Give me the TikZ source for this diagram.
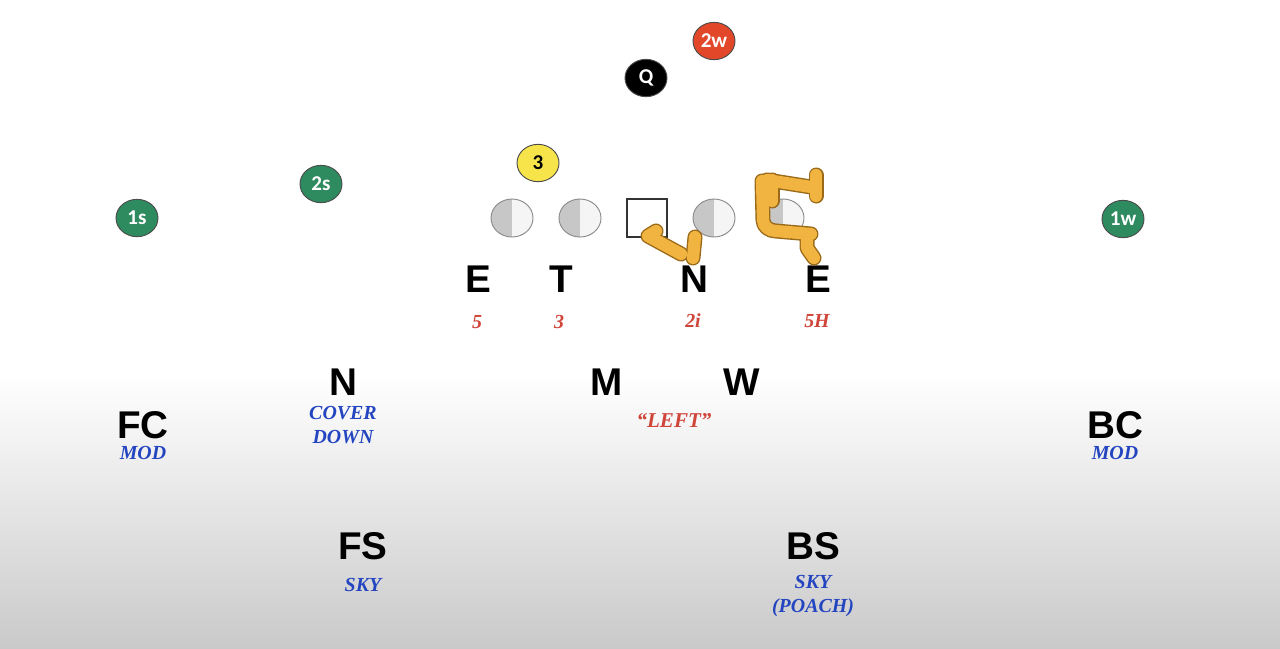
\documentclass[tikz,border=0pt]{standalone}
\usepackage{fontspec}
\setmainfont{Liberation Serif}
\setsansfont{Liberation Sans}
\newfontfamily\chipfont{Carlito}
\usetikzlibrary{shapes.geometric, calc, positioning}
\definecolor{teamgreen}{HTML}{2E8B5F}
\definecolor{dotred}{HTML}{E2472A}
\definecolor{dotyellow}{HTML}{F7E44A}
\definecolor{techred}{HTML}{D0453A}
\definecolor{callblue}{HTML}{2445C0}
\definecolor{pen}{HTML}{F2B441}
\definecolor{penedge}{HTML}{9A6A18}
\tikzset{
  chip/.style = {
    ellipse,
    minimum width  = 0.63cm,
    minimum height = 0.56cm,
    inner sep      = 0pt,
    draw           = black!70,
    font           = \chipfont\bfseries\fontsize{9}{9}\selectfont
  },
  oline/.style = {
    ellipse,
    minimum width  = 0.63cm,
    minimum height = 0.57cm,
    inner sep      = 0pt,
    draw           = black!45,
    fill           = black!4,
    path picture   = {\fill[black!22] (path picture bounding box.south west) rectangle (path picture bounding box.north);}
  },
  spot/.style = {font = \sffamily\bfseries\fontsize{16.5}{16.5}\selectfont, inner sep = 0pt},
  tech/.style = {font = \bfseries\itshape\fontsize{8.5}{8.5}\selectfont, text = techred, inner sep = 0pt},
  call/.style = {font = \bfseries\itshape\fontsize{8.5}{10}\selectfont, text = callblue, align = center, inner sep = 0pt},
  ink/.style  = {line width = 6.4pt, line cap = round, line join = round, draw = penedge},
  inkin/.style = {line width = 5.2pt, line cap = round, line join = round, draw = pen}
}

\begin{document}
\begin{tikzpicture}[x=0.015cm, y=-0.015cm]

% Background
\useasboundingbox (0,0) rectangle (1280,648);
\fill[white] (0,0) rectangle (1280,376);
\shade[top color=white, bottom color=black!21] (0,375) rectangle (1280,648);

% Offense
\node[chip, fill=dotred, text=white] (twow) at (714,41) {2w};
\node[chip, fill=black, text=white] (qb) at (646,78) {Q};
\node[chip, fill=dotyellow, text=black] (three) at (538,163) {3};
\node[chip, fill=teamgreen, text=white] (twos) at (321,184) {2s};
\node[chip, fill=teamgreen, text=white] (ones) at (137,218) {1s};
\node[chip, fill=teamgreen, text=white] (onew) at (1123,219) {1w};

% Offensive line
\node[oline] (lt) at (512,218) {};
\node[oline] (lg) at (580,218) {};
\node[draw=black!80, fill=white, thick, minimum width=0.6cm, minimum height=0.57cm, inner sep=0pt] (ctr) at (647,218) {};
\node[oline] (rg) at (714,218) {};
\node[oline] (rt) at (783,218) {};

% Front
\node[spot] (dle) at (478,279) {E};
\node[spot] (dt) at (561,279) {T};
\node[spot] (dn) at (694,279) {N};
\node[spot] (dre) at (818,279) {E};

% Techniques
\node[tech] (t5) at (477,322) {5};
\node[tech] (t3) at (559,322) {3};
\node[tech] (t2i) at (693,321) {2i};
\node[tech] (t5h) at (817,321) {5H};

% Second level
\node[spot] (nick) at (343,382) {N};
\node[spot] (mike) at (607,382) {M};
\node[spot] (will) at (742,382) {W};
\node[call] (cover) at (343,425) {COVER\\DOWN};
\node[tech, font=\bfseries\itshape\fontsize{9}{9}\selectfont] (left) at (674,420) {``LEFT''};

% Corners
\node[spot] (fc) at (143,425) {FC};
\node[call] (fcmod) at (143,453) {MOD};
\node[spot] (bc) at (1115,425) {BC};
\node[call] (bcmod) at (1115,453) {MOD};

% Safeties
\node[spot] (fs) at (363,546) {FS};
\node[call] (fssky) at (363,585) {SKY};
\node[spot] (bs) at (813,546) {BS};
\node[call] (bssky) at (813,596) {SKY\\(POACH)};

% Pen marks
\foreach \lw in {ink, inkin} {
  \draw[\lw] (681,254) -- (648,236) -- (656,231);
  \draw[\lw] (695,237) -- (693,258);
  \draw[\lw] (762,181) -- (763,220) to[out=-90, in=180] (776,231) -- (811,234);
  \draw[\lw] (767,180) -- (811,187);
  \draw[\lw] (816,175) -- (816,196);
  \draw[\lw] (772,180) -- (772,201);
  \draw[\lw] (807,238) -- (807,248) -- (814,258);
}

\end{tikzpicture}
\end{document}
